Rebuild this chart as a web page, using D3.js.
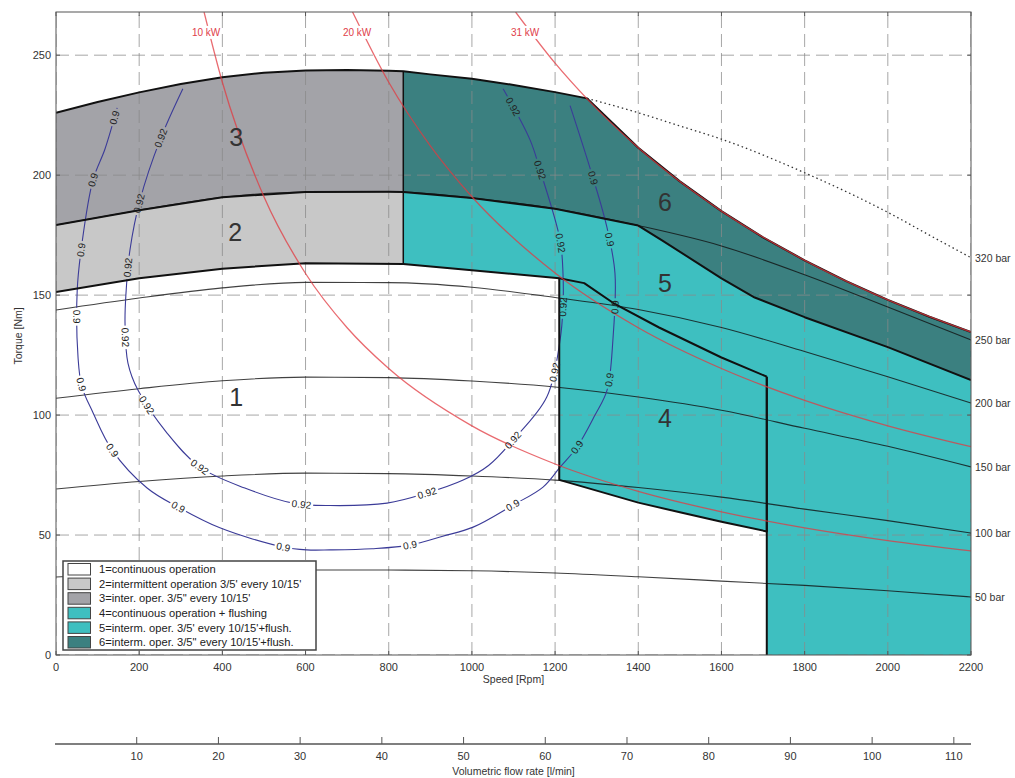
<!DOCTYPE html>
<html>
<head>
<meta charset="utf-8">
<script src="https://cdn.jsdelivr.net/npm/d3@7"></script>
<style>
body{margin:0;background:#fff;}
text{font-family:"Liberation Sans",Arial,sans-serif;fill:#333;}
</style>
</head>
<body>
<script>
//Ticks
const speedTicks = [0,200,400,600,800,1000,1200,1400,1600,1800,2000,2200];
const torqueTicks = [0,50,100,150,200,250];
const flowTicks = [10,20,30,40,50,60,70,80,90,100,110];

//Constant pressure lines [rpm, Nm]
const p50 = [[0,32.5],[200,34],[400,35],[600,35.4],[800,35.4],[1000,35.1],[1200,34.2],[1400,32.6],[1600,30.8],[1800,29],[2000,26.8],[2200,24.2]];
const p100 = [[0,69.2],[200,72.3],[400,74.6],[600,75.8],[800,75.6],[1000,74.6],[1200,72.9],[1400,69.8],[1600,65.8],[1800,60.8],[2000,56],[2200,50.8]];
const p150 = [[0,107],[200,111],[400,114.3],[600,115.8],[800,115.6],[1000,114.2],[1200,111.7],[1400,107.5],[1600,102],[1800,94.5],[2000,87],[2200,78.4]];
const p200 = [[0,143.8],[200,148.8],[400,153],[600,155.3],[800,155.2],[1000,153.3],[1200,149],[1400,144],[1600,136.5],[1800,126.5],[2000,116],[2200,105]];
const p250 = [[0,179.2],[200,185.4],[400,190.8],[600,193],[800,193.1],[835,193],[1000,190.5],[1200,186],[1400,179],[1600,170.5],[1800,158.5],[2000,145],[2200,131.3]];
const p320dotted = [[1277,232],[1400,226],[1500,220.5],[1600,215],[1800,201],[2000,184.5],[2100,175],[2200,165.6]];
const pressureNames = ['50 bar','100 bar','150 bar','200 bar','250 bar','320 bar'];

//Envelope + zone boundaries
const envTop = [[0,226],[100,230.5],[200,234.5],[300,238],[400,240.8],[500,242.7],[600,243.6],[700,243.8],[800,243.5],[835,243.3],[900,242],[1000,240.2],[1100,237.6],[1200,234.6],[1277,232],[1400,211.4],[1500,197.4],[1600,185],[1700,174.1],[1800,164.5],[1900,155.8],[2000,148],[2100,141],[2200,134.6]];
const b12 = [[0,151.3],[200,157],[400,161],[600,163.3],[835,163],[1000,160.4],[1210,157],[1270,155],[1340,146.7],[1450,136.5],[1600,124],[1709,116]];
const b56Tail = [[1460,172.5],[1600,157],[1680,149],[1800,140.8],[2000,128.3],[2200,114.6]];
const box4Lower = [[1210,73],[1400,63.5],[1500,59.5],[1600,55.5],[1709,51.5]];
const split = 835;

//Power lines
const kw10 = [[356,268],[400,238.7],[500,191],[600,159],[700,136.4],[800,119.4],[1000,95.5],[1200,79.6],[1400,68.2],[1600,59.7],[1800,53],[2000,47.7],[2200,43.4]];
const kw20 = [[713,268],[800,238.7],[900,212.2],[1000,191],[1200,159.2],[1400,136.4],[1600,119.4],[1800,106.1],[2000,95.5],[2200,86.8]];
const kw31 = [[1105,268],[1200,246.7],[1277,231.8],[1400,211.4],[1600,185],[1800,164.5],[2000,148],[2200,134.6]];
const kwNames = ['10 kW','20 kW','31 kW'];
const kwLabelAt = [[361,259.5],[724,259.5],[1128,259.5]];

//Efficiency contours
const eff90 = [[147,228],[118,211],[89,198],[62,171],[51,152],[53,124],[62,112],[89,101],[135,85.4],[219,69.6],[293,61.7],[394,53],[546,45],[603,43.8],[659,43.8],[760,44.3],[851,45.8],[930,49.5],[1003,53.3],[1099,62.5],[1171,70],[1212,78.3],[1253,86.7],[1296,100],[1325,110.4],[1339,131.3],[1344,159],[1325,178],[1291,199],[1236,229]];
const eff92 = [[305,236],[250,214.6],[202,189.6],[178,169],[168,150],[166,138],[173,121.7],[197,110.4],[267,92.5],[346,78.3],[454,69.6],[570,63.3],[659,62.3],[796,63.3],[892,67.5],[979,72.9],[1040,79],[1099,89.6],[1180,107.5],[1212,131.3],[1219,145],[1219,159],[1212,173],[1164,202],[1140,214.6],[1075,236]];
const eff90Labels = [[142,224],[89,198],[60,169],[50,141],[62,113],[135,85.4],[293,61.7],[546,45],[851,45.8],[1099,62.5],[1253,86.7],[1332,114.6],[1339,145],[1327,173],[1291,199]];
const eff92Labels = [[245,215.8],[197,188.3],[171,161.7],[161,132.5],[209,103.3],[346,78.3],[591,62.5],[892,67.5],[1099,89.6],[1205,117.5],[1219,145],[1207,171.7],[1164,202],[1099,228.3]];

//Zones
const zoneNames = ['1','2','3','4','5','6'];
const zoneLabelAt = [[433,107.5],[431,176],[433,216],[1464,98.8],[1464,155],[1464,188.8]];
const legendTexts = [
	'1=continuous operation',
	"2=intermittent operation 3/5' every 10/15'",
	"3=inter. oper. 3/5\" every 10/15'",
	'4=continuous operation + flushing',
	"5=interm. oper. 3/5' every 10/15'+flush.",
	"6=interm. oper. 3/5\" every 10/15'+flush."
];
const zoneColors = ['#ffffff','#c8c8c8','#a3a3a8','#3ebfc0','#3ebfc0','#3b8080'];

//Set SVG
const width = 1015;
const height = 778;
const svg = d3.select('body')
	.append('svg')
	.attr('width', width)
	.attr('height', height);

const x = d3.scaleLinear().domain([0,2200]).range([56,971]);
const y = d3.scaleLinear().domain([0,268]).range([655,12]);
const q = d3.scaleLinear().domain([0,112.1]).range([55,971]);

const line = d3.line().x(d=>x(d[0])).y(d=>y(d[1]));
const smooth = d3.line().x(d=>x(d[0])).y(d=>y(d[1])).curve(d3.curveMonotoneX);
const curvy = d3.line().x(d=>x(d[0])).y(d=>y(d[1])).curve(d3.curveCatmullRom);

const defs = svg.append('defs');
defs.append('clipPath').attr('id','plot')
	.append('rect').attr('x',x(0)).attr('y',y(268)).attr('width',x(2200)-x(0)).attr('height',y(0)-y(268));
const cmask = defs.append('mask').attr('id','cmask').attr('maskUnits','userSpaceOnUse')
	.attr('x',0).attr('y',0).attr('width',width).attr('height',height);
cmask.append('rect').attr('width',width).attr('height',height).attr('fill','#fff');
const kmask = defs.append('mask').attr('id','kmask').attr('maskUnits','userSpaceOnUse')
	.attr('x',0).attr('y',0).attr('width',width).attr('height',height);
kmask.append('rect').attr('width',width).attr('height',height).attr('fill','#fff');

const plot = svg.append('g').attr('clip-path','url(#plot)');

//Zone fills
const b23 = p250.filter(d=>d[0]<=split);
const b56 = p250.filter(d=>d[0]>=split && d[0]<=1400).concat(b56Tail);
const box4Left = box4Lower[0][0];
const box4Right = box4Lower[box4Lower.length-1][0];
const zone3 = envTop.filter(d=>d[0]<=split).concat(b23.slice().reverse());
const zone2 = b23.concat(b12.filter(d=>d[0]<=split).reverse());
const zone6 = envTop.filter(d=>d[0]>=split).concat(b56.slice().reverse());
const teal = b56.concat([[2200,0],[box4Right,0]], box4Lower.slice().reverse(),
	b12.filter(d=>d[0]>=split && d[0]<=box4Left).reverse());

plot.append('path').attr('d', line(zone2)+'Z').attr('fill', zoneColors[1]);
plot.append('path').attr('d', line(zone3)+'Z').attr('fill', zoneColors[2]);
plot.append('path').attr('d', line(teal)+'Z').attr('fill', zoneColors[3]);
plot.append('path').attr('d', line(zone6)+'Z').attr('fill', zoneColors[5]);

//Grid
plot.selectAll('line.vg').data(speedTicks).enter().append('line')
	.attr('x1',d=>x(d)).attr('x2',d=>x(d)).attr('y1',y(0)).attr('y2',y(268))
	.attr('stroke','#8a8a8a').attr('stroke-opacity',0.75).attr('stroke-dasharray','13,6');
plot.selectAll('line.hg').data(torqueTicks).enter().append('line')
	.attr('x1',x(0)).attr('x2',x(2200)).attr('y1',d=>y(d)).attr('y2',d=>y(d))
	.attr('stroke','#8a8a8a').attr('stroke-opacity',0.75).attr('stroke-dasharray','13,6');

//Pressure lines
const pressures = [p50,p100,p150,p200,p250];
plot.selectAll('path.press').data(pressures).enter().append('path')
	.attr('d', d=>smooth(d)).attr('fill','none')
	.attr('stroke','#111').attr('stroke-opacity',0.8).attr('stroke-width',1.1);
plot.append('path').attr('d', smooth(p320dotted)).attr('fill','none')
	.attr('stroke','#333').attr('stroke-width',1.3).attr('stroke-dasharray','1.5,3');

//Efficiency contours
const c90 = plot.append('path').attr('d', curvy(eff90)).attr('fill','none')
	.attr('stroke','#3b3b98').attr('stroke-width',1.1).attr('mask','url(#cmask)');
const c92 = plot.append('path').attr('d', curvy(eff92)).attr('fill','none')
	.attr('stroke','#3b3b98').attr('stroke-width',1.1).attr('mask','url(#cmask)');

//Thick boundaries
const thick = (pts, w) => plot.append('path').attr('d', line(pts)).attr('fill','none')
	.attr('stroke','#111').attr('stroke-width', w).attr('stroke-linejoin','round');
thick(envTop, 2);
thick(p250.filter(d=>d[0]<=1400).concat(b56Tail), 2);
thick(b12, 2);
thick([[split, b12[4][1]],[split, envTop[9][1]]], 1.5);
thick([[box4Left, b12[6][1]]].concat(box4Lower, [[box4Right, b12[b12.length-1][1]]]), 2);
thick([[box4Right, b12[b12.length-1][1]],[box4Right,0]], 2);

//Power lines
plot.selectAll('path.kw').data([kw10,kw20,kw31]).enter().append('path')
	.attr('d', d=>smooth(d)).attr('fill','none')
	.attr('stroke','#e23a40').attr('stroke-opacity',0.75).attr('stroke-width',1.3)
	.attr('mask','url(#kmask)');

svg.selectAll('text.kw').data(kwNames).enter().append('text')
	.attr('x',(d,i)=>x(kwLabelAt[i][0])).attr('y',(d,i)=>y(kwLabelAt[i][1]))
	.attr('dy','0.35em').attr('text-anchor','middle')
	.attr('font-size','10px').style('fill','#e0404a')
	.text(d=>d)
	.each(function(d){
		const b = this.getBBox();
		kmask.append('rect').attr('x',b.x-1).attr('y',b.y-1).attr('width',b.width+2).attr('height',b.height+2).attr('fill','#000');
	});

//Contour labels
function placeLabels(pathNode, targets, value){
	const len = pathNode.getTotalLength();
	const samples = d3.range(0, len, 1).map(l=>{ const p = pathNode.getPointAtLength(l); return [l,p.x,p.y]; });
	targets.forEach(t=>{
		const tx = x(t[0]), ty = y(t[1]);
		const best = d3.least(samples, s=>(s[1]-tx)**2 + (s[2]-ty)**2);
		const p0 = pathNode.getPointAtLength(Math.max(0,best[0]-5));
		const p1 = pathNode.getPointAtLength(Math.min(len,best[0]+5));
		let a = Math.atan2(p1.y-p0.y, p1.x-p0.x)*180/Math.PI;
		if(a>90) a -= 180;
		if(a<-90) a += 180;
		const g = svg.append('g').attr('transform',`translate(${best[1]},${best[2]}) rotate(${a})`);
		const txt = g.append('text').attr('text-anchor','middle').attr('dy','0.35em')
			.attr('font-size','10px').style('fill','#222').text(value);
		const w = txt.node().getComputedTextLength();
		cmask.append('rect').attr('x',-w/2-2).attr('y',-5).attr('width',w+4).attr('height',10)
			.attr('fill','#000').attr('transform',`translate(${best[1]},${best[2]}) rotate(${a})`);
	});
}
placeLabels(c90.node(), eff90Labels, '0.9');
placeLabels(c92.node(), eff92Labels, '0.92');

//Zone numbers
svg.selectAll('text.zone').data(zoneNames).enter().append('text')
	.attr('x',(d,i)=>x(zoneLabelAt[i][0])).attr('y',(d,i)=>y(zoneLabelAt[i][1]))
	.attr('dy','0.35em').attr('text-anchor','middle')
	.attr('font-size','25px').style('fill','#333')
	.text(d=>d);

//Pressure labels on right
const pressureEnds = [p50,p100,p150,p200,p250,p320dotted].map(d=>d[d.length-1][1]);
svg.selectAll('text.bar').data(pressureNames).enter().append('text')
	.attr('x', x(2200)+4).attr('y',(d,i)=>y(pressureEnds[i]))
	.attr('dy','0.4em').attr('font-size','10.5px')
	.text(d=>d);

//Frame + inward ticks
svg.append('rect').attr('x',x(0)).attr('y',y(268)).attr('width',x(2200)-x(0)).attr('height',y(0)-y(268))
	.attr('fill','none').attr('stroke','#555').attr('stroke-width',1);
speedTicks.forEach(d=>{
	svg.append('line').attr('x1',x(d)).attr('x2',x(d)).attr('y1',y(0)).attr('y2',y(0)-4).attr('stroke','#555');
	svg.append('line').attr('x1',x(d)).attr('x2',x(d)).attr('y1',y(268)).attr('y2',y(268)+4).attr('stroke','#555');
});
torqueTicks.forEach(d=>{
	svg.append('line').attr('x1',x(0)).attr('x2',x(0)+4).attr('y1',y(d)).attr('y2',y(d)).attr('stroke','#555');
	svg.append('line').attr('x1',x(2200)).attr('x2',x(2200)-4).attr('y1',y(d)).attr('y2',y(d)).attr('stroke','#555');
});

//Axis labels
svg.selectAll('text.xt').data(speedTicks).enter().append('text')
	.attr('x',d=>x(d)).attr('y',y(0)+12).attr('dy','0.35em').attr('text-anchor','middle')
	.attr('font-size','11px').text(d=>d);
svg.selectAll('text.yt').data(torqueTicks).enter().append('text')
	.attr('x',x(0)-5).attr('y',d=>y(d)).attr('dy','0.35em').attr('text-anchor','end')
	.attr('font-size','11px').text(d=>d);
svg.append('text').attr('x',(x(0)+x(2200))/2).attr('y',y(0)+24).attr('dy','0.35em')
	.attr('text-anchor','middle').attr('font-size','10.5px').text('Speed [Rpm]');
svg.append('text').attr('transform',`translate(18,${y(133)}) rotate(-90)`)
	.attr('dy','0.35em').attr('text-anchor','middle').attr('font-size','10.5px').text('Torque [Nm]');

//Legend
const lg = svg.append('g').attr('transform','translate(63,561)');
lg.append('rect').attr('width',253).attr('height',89).attr('fill','#fff')
	.attr('stroke','#444').attr('stroke-width',1.5);
lg.selectAll('rect.sw').data(legendTexts).enter().append('rect')
	.attr('x',5).attr('y',(d,i)=>2.5+i*14.6).attr('width',22.5).attr('height',11.5)
	.attr('fill',(d,i)=>zoneColors[i]).attr('stroke','#444').attr('stroke-width',1);
lg.selectAll('text.lt').data(legendTexts).enter().append('text')
	.attr('x',36).attr('y',(d,i)=>8.3+i*14.6).attr('dy','0.35em')
	.attr('font-size','11.2px').style('fill','#222').text(d=>d);

//Volumetric flow axis
const fy = 744;
svg.append('line').attr('x1',q(0)).attr('x2',q(112.1)).attr('y1',fy).attr('y2',fy)
	.attr('stroke','#555').attr('stroke-width',1.5);
svg.selectAll('line.ft').data(flowTicks).enter().append('line')
	.attr('x1',d=>q(d)).attr('x2',d=>q(d)).attr('y1',fy).attr('y2',fy-7).attr('stroke','#555');
svg.selectAll('text.ft').data(flowTicks).enter().append('text')
	.attr('x',d=>q(d)).attr('y',fy+12).attr('dy','0.35em').attr('text-anchor','middle')
	.attr('font-size','11px').text(d=>d);
svg.append('text').attr('x',(x(0)+x(2200))/2).attr('y',fy+27).attr('dy','0.35em')
	.attr('text-anchor','middle').attr('font-size','10.5px').text('Volumetric flow rate [l/min]');
</script>
</body>
</html>
